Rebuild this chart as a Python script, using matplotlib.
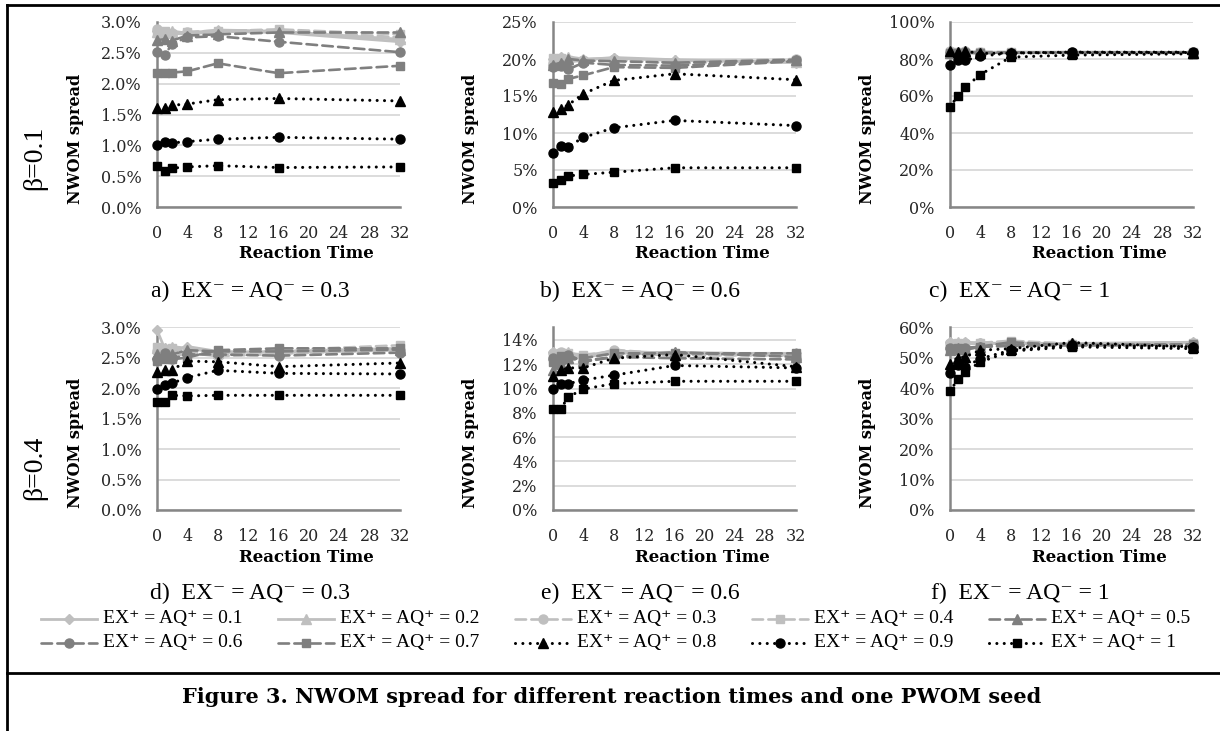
import matplotlib
matplotlib.use('Agg')
import matplotlib.pyplot as plt
from matplotlib.lines import Line2D
from matplotlib.ticker import FuncFormatter, MultipleLocator

W, H = 1220, 731

# ---------------- data ----------------
reaction_time = [0, 1, 2, 4, 8, 16, 32]
series_labels = ['EX⁺ = AQ⁺ = 0.1', 'EX⁺ = AQ⁺ = 0.2', 'EX⁺ = AQ⁺ = 0.3',
                 'EX⁺ = AQ⁺ = 0.4', 'EX⁺ = AQ⁺ = 0.5', 'EX⁺ = AQ⁺ = 0.6',
                 'EX⁺ = AQ⁺ = 0.7', 'EX⁺ = AQ⁺ = 0.8', 'EX⁺ = AQ⁺ = 0.9',
                 'EX⁺ = AQ⁺ = 1']
panel_captions = ['a)  EX⁻ = AQ⁻ = 0.3', 'b)  EX⁻ = AQ⁻ = 0.6', 'c)  EX⁻ = AQ⁻ = 1',
                  'd)  EX⁻ = AQ⁻ = 0.3', 'e)  EX⁻ = AQ⁻ = 0.6', 'f)  EX⁻ = AQ⁻ = 1']
row_labels = ['β=0.1', 'β=0.4']

# NWOM spread in percent, one row per series (0.1 ... 1)
panel_a = [
    [2.85, 2.80, 2.82, 2.80, 2.85, 2.83, 2.68],
    [2.83, 2.84, 2.85, 2.82, 2.87, 2.85, 2.72],
    [2.88, 2.83, 2.82, 2.84, 2.86, 2.87, 2.75],
    [2.82, 2.85, 2.80, 2.83, 2.85, 2.88, 2.80],
    [2.71, 2.72, 2.70, 2.78, 2.80, 2.83, 2.83],
    [2.52, 2.46, 2.65, 2.75, 2.77, 2.68, 2.51],
    [2.18, 2.18, 2.18, 2.20, 2.33, 2.17, 2.29],
    [1.61, 1.61, 1.65, 1.67, 1.74, 1.76, 1.72],
    [1.00, 1.05, 1.04, 1.06, 1.10, 1.13, 1.10],
    [0.66, 0.59, 0.63, 0.65, 0.67, 0.64, 0.65],
]
panel_b = [
    [20.0, 20.3, 19.8, 19.9, 20.2, 19.9, 19.5],
    [19.8, 20.2, 20.3, 20.0, 20.1, 19.8, 19.6],
    [19.5, 20.0, 19.6, 19.8, 20.0, 19.6, 20.0],
    [20.2, 20.1, 19.9, 19.7, 19.9, 19.4, 19.8],
    [19.2, 19.5, 20.0, 19.8, 19.7, 19.5, 19.9],
    [18.9, 19.0, 18.6, 19.5, 19.2, 19.1, 19.8],
    [16.8, 16.6, 17.3, 17.8, 18.9, 18.8, 19.7],
    [12.8, 13.2, 13.8, 15.3, 17.1, 18.0, 17.2],
    [7.25, 8.3, 8.15, 9.4, 10.7, 11.7, 11.0],
    [3.26, 3.6, 4.2, 4.4, 4.7, 5.3, 5.3],
]
panel_c = [
    [84.0, 83.5, 84.0, 83.5, 83.8, 83.5, 83.5],
    [83.5, 84.0, 83.8, 83.5, 83.5, 83.8, 83.5],
    [84.2, 83.5, 84.2, 83.6, 83.5, 83.6, 83.6],
    [83.8, 83.8, 83.5, 84.0, 83.6, 83.5, 83.8],
    [83.5, 83.5, 83.5, 83.2, 83.5, 83.4, 83.4],
    [83.2, 83.3, 83.6, 83.4, 83.3, 83.5, 83.5],
    [83.0, 83.2, 83.2, 83.3, 83.4, 83.3, 83.3],
    [84.2, 84.0, 84.2, 83.0, 83.2, 83.5, 83.5],
    [76.6, 79.2, 79.2, 81.5, 83.3, 83.7, 83.7],
    [53.8, 60.1, 64.7, 71.6, 81.0, 82.1, 82.8],
]
panel_d = [
    [2.95, 2.65, 2.60, 2.68, 2.60, 2.58, 2.62],
    [2.65, 2.62, 2.68, 2.65, 2.58, 2.60, 2.65],
    [2.60, 2.55, 2.50, 2.58, 2.52, 2.56, 2.63],
    [2.68, 2.60, 2.65, 2.60, 2.55, 2.62, 2.70],
    [2.55, 2.50, 2.55, 2.62, 2.60, 2.60, 2.63],
    [2.48, 2.58, 2.48, 2.55, 2.55, 2.53, 2.58],
    [2.45, 2.50, 2.47, 2.50, 2.62, 2.65, 2.65],
    [2.26, 2.29, 2.30, 2.44, 2.43, 2.35, 2.41],
    [1.99, 2.05, 2.08, 2.17, 2.29, 2.24, 2.23],
    [1.77, 1.77, 1.88, 1.87, 1.88, 1.88, 1.88],
]
panel_e = [
    [13.0, 12.9, 12.8, 12.7, 13.1, 12.9, 12.9],
    [12.8, 12.6, 13.0, 12.6, 12.9, 13.0, 12.8],
    [12.9, 13.0, 12.7, 12.5, 13.2, 12.8, 12.7],
    [12.6, 12.9, 12.9, 12.8, 13.0, 12.7, 12.8],
    [11.5, 12.0, 12.5, 12.3, 12.6, 13.0, 12.6],
    [12.5, 12.3, 12.8, 12.2, 12.6, 12.5, 12.4],
    [12.2, 12.7, 12.4, 12.5, 12.9, 12.9, 12.9],
    [11.0, 11.5, 11.7, 11.7, 12.5, 12.8, 11.8],
    [9.96, 10.4, 10.4, 10.7, 11.1, 11.9, 11.7],
    [8.3, 8.3, 9.3, 9.96, 10.4, 10.6, 10.6],
]
panel_f = [
    [55.0, 54.5, 55.0, 54.8, 54.5, 54.6, 55.0],
    [54.5, 55.0, 54.6, 54.5, 54.8, 54.5, 54.8],
    [54.8, 54.4, 54.8, 54.6, 55.0, 54.4, 54.6],
    [54.3, 54.8, 54.5, 54.8, 55.5, 54.5, 54.9],
    [52.5, 53.0, 52.8, 53.5, 54.0, 54.0, 54.2],
    [53.0, 52.5, 53.2, 53.5, 53.8, 54.2, 54.0],
    [52.8, 53.2, 52.5, 53.6, 55.0, 54.0, 54.3],
    [48.0, 50.0, 50.2, 52.4, 52.9, 54.9, 53.5],
    [44.9, 47.5, 46.9, 49.6, 52.4, 54.0, 53.5],
    [38.9, 42.8, 45.3, 48.5, 52.1, 53.5, 52.9],
]
panels = [panel_a, panel_b, panel_c, panel_d, panel_e, panel_f]
# y axis (max, step, decimals, top limit)
y_axes = [(3.0, 0.5, 1, 3.0), (25, 5, 0, 25), (100, 20, 0, 100),
          (3.0, 0.5, 1, 3.0), (14, 2, 0, 15.07), (60, 10, 0, 60)]

# ---------------- styles ----------------
LIGHT = '#bfbfbf'
MID = '#7f7f7f'
BLACK = '#000000'
DASH = (0, (4, 2))
DOT = (0, (0.01, 2.4))
styles = [
    dict(color=LIGHT, ls='-', marker='D', lw=2.0, ms=5.5),
    dict(color=LIGHT, ls='-', marker='^', lw=2.0, ms=6.5),
    dict(color=LIGHT, ls=DASH, marker='o', lw=1.9, ms=6.5),
    dict(color=LIGHT, ls=DASH, marker='s', lw=1.9, ms=6.0),
    dict(color=MID, ls=DASH, marker='^', lw=1.9, ms=6.5),
    dict(color=MID, ls=DASH, marker='o', lw=1.9, ms=6.5),
    dict(color=MID, ls=DASH, marker='s', lw=1.9, ms=6.0),
    dict(color=BLACK, ls=DOT, marker='^', lw=2.2, ms=6.5),
    dict(color=BLACK, ls=DOT, marker='o', lw=2.2, ms=6.5),
    dict(color=BLACK, ls=DOT, marker='s', lw=2.2, ms=6.0),
]

TICK_FONT = 'DejaVu Serif'
TXT = ['Liberation Serif', 'DejaVu Serif']

fig = plt.figure(figsize=(W / 100, H / 100), dpi=100)
fig.patch.set_facecolor('white')


def fx(x):
    return x / W


def fy(y):
    return 1 - y / H


lefts = [157, 553, 950]
width = 243
rows = [(22, 207), (327, 510)]

for idx, data in enumerate(panels):
    r, c = divmod(idx, 3)
    top, bot = rows[r]
    l = lefts[c]
    ax = fig.add_axes([fx(l), fy(bot), width / W, (bot - top) / H])
    ymax, ystep, dec, ytop = y_axes[idx]
    for s, vals in enumerate(data):
        st = styles[s]
        ax.plot(reaction_time, vals, color=st['color'], linestyle=st['ls'],
                linewidth=st['lw'], marker=st['marker'], markersize=st['ms'],
                markerfacecolor=st['color'], markeredgecolor=st['color'],
                dash_capstyle='round', clip_on=False, zorder=3 + s)
    ax.set_xlim(0, 32)
    ax.set_ylim(0, ytop)
    ax.xaxis.set_major_locator(MultipleLocator(4))
    ticks = [i * ystep for i in range(int(round(ymax / ystep)) + 1)]
    ax.set_yticks(ticks)
    ax.yaxis.set_major_formatter(FuncFormatter(
        lambda v, p, d=dec: f'{v:.{d}f}%'))
    ax.grid(axis='y', color='#d9d9d9', linewidth=1.3, zorder=0)
    ax.set_axisbelow(True)
    for sp in ['top', 'right']:
        ax.spines[sp].set_visible(False)
    for sp in ['left', 'bottom']:
        ax.spines[sp].set_color('#868686')
        ax.spines[sp].set_linewidth(1.8)
    ax.tick_params(length=0, labelsize=11.5, colors='#262626')
    ax.tick_params(axis='y', pad=11)
    ax.tick_params(axis='x', pad=13)
    for lab in ax.get_xticklabels() + ax.get_yticklabels():
        lab.set_fontfamily(TICK_FONT)

    # axis titles
    fig.text(fx(l - 82), fy((top + bot) / 2 + 24), 'NWOM spread', rotation=90,
             ha='center', va='center', fontsize=11.5, fontweight='bold',
             family=TICK_FONT)
    xr = [253, 558][r]
    fig.text(fx(l + width / 2 + 28), fy(xr), 'Reaction Time', ha='center',
             va='center', fontsize=12, fontweight='bold', family=TICK_FONT)
    # panel caption
    cy = [291, 593][r]
    cx = [250, 640, 1020][c]
    fig.text(fx(cx), fy(cy), panel_captions[idx], ha='center', va='center',
             fontsize=17, family=TXT)

# row labels
for r, lab in enumerate(row_labels):
    fig.text(fx(35), fy([158, 468][r]), lab, rotation=90, ha='center',
             va='center', fontsize=20, family=TXT)

# legend (manual layout, 2 rows x 5 columns)
for i, lab in enumerate(series_labels):
    rr, cc = divmod(i, 5)
    ty = [619, 643][rr]
    tx = 103 + 237 * cc
    st = styles[i]
    x0, x1 = tx - 62, tx - 6
    fig.add_artist(Line2D([fx(x0), fx(x1)], [fy(ty), fy(ty)],
                          transform=fig.transFigure, color=st['color'],
                          linestyle=st['ls'], linewidth=st['lw'],
                          dash_capstyle='round'))
    fig.add_artist(Line2D([fx((x0 + x1) / 2)], [fy(ty)],
                          transform=fig.transFigure, color=st['color'],
                          marker=st['marker'], markersize=st['ms'],
                          linestyle='none'))
    fig.text(fx(tx), fy(ty), lab, ha='left', va='center', fontsize=14,
             family=TXT)

# frame lines
for (xa, ya, xb, yb) in [(7, 5, W, 5), (7, 5, 7, H), (7, 673, W, 673)]:
    fig.add_artist(Line2D([fx(xa), fx(xb)], [fy(ya), fy(yb)],
                          transform=fig.transFigure, color='black',
                          linewidth=2.0))

fig.text(fx(612), fy(697),
         'Figure 3. NWOM spread for different reaction times and one PWOM seed',
         ha='center', va='center', fontsize=15, fontweight='bold',
         family=TICK_FONT)

fig.savefig('out.png', dpi=100, facecolor='white')
